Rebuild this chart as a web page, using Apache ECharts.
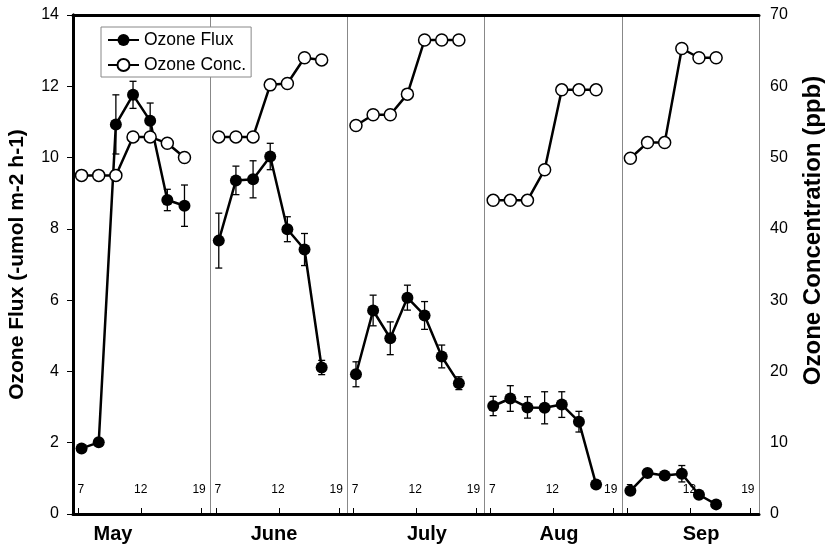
<!DOCTYPE html>
<html><head><meta charset="utf-8">
<script src="https://cdn.jsdelivr.net/npm/echarts@6/dist/echarts.min.js"></script>
<style>html,body{margin:0;padding:0;background:#fff}#c{width:827px;height:549px}</style>
</head><body><div id="c"></div>
<script>
// ---------- data ----------
const months = ['May', 'June', 'July', 'Aug', 'Sep'];
const hourTickLabels = ['7', '12', '19'];
const seriesNames = ['Ozone Flux', 'Ozone Conc.'];

const fluxMay  = [1.84, 2.01, 10.93, 11.76, 11.03, 8.81, 8.65];
const fluxJune = [7.67, 9.36, 9.39, 10.03, 7.99, 7.42, 4.11];
const fluxJuly = [3.92, 5.71, 4.93, 6.07, 5.57, 4.42, 3.67];
const fluxAug  = [3.03, 3.24, 2.99, 2.98, 3.07, 2.59, 0.83];
const fluxSep  = [0.65, 1.15, 1.08, 1.13, 0.54, 0.27];

const errMay  = [0, 0, 0.83, 0.38, 0.5, 0.3, 0.58];
const errJune = [0.77, 0.4, 0.52, 0.37, 0.35, 0.45, 0.2];
const errJuly = [0.35, 0.43, 0.46, 0.35, 0.39, 0.32, 0.18];
const errAug  = [0.27, 0.36, 0.3, 0.45, 0.36, 0.29, 0];
const errSep  = [0, 0, 0, 0.23, 0, 0];

const concMay  = [47.5, 47.5, 47.5, 52.9, 52.9, 52.0, 50.0];
const concJune = [52.9, 52.9, 52.9, 60.2, 60.4, 64.0, 63.7];
const concJuly = [54.5, 56.0, 56.0, 58.9, 66.5, 66.5, 66.5];
const concAug  = [44.0, 44.0, 44.0, 48.3, 59.5, 59.5, 59.5];
const concSep  = [49.9, 52.1, 52.1, 65.3, 64.0, 64.0];

const fluxByMonth = [fluxMay, fluxJune, fluxJuly, fluxAug, fluxSep];
const errByMonth  = [errMay, errJune, errJuly, errAug, errSep];
const concByMonth = [concMay, concJune, concJuly, concAug, concSep];

// ---------- layout of the x scale (slots per month panel) ----------
const SLOTS = 8;
const hourTickOffsets  = [0.33, 4.0, 7.5];
const hourLabelOffsets = [0.45, 3.95, 7.35];
const monthLabelOffsets = [2.33, 3.72, 4.64, 4.34, 4.62];

const FONT = 'Liberation Sans, Arial, Helvetica, sans-serif';

const hourTickVals  = months.flatMap((m, p) => hourTickOffsets.map(o => p * SLOTS + o));
const hourLabelVals = months.flatMap((m, p) => hourLabelOffsets.map(o => p * SLOTS + o));
const monthVals = months.map((m, p) => p * SLOTS + monthLabelOffsets[p]);

function nearestIdx(list, v) {
  let best = 0, bd = Infinity;
  list.forEach((x, i) => { const d = Math.abs(x - v); if (d < bd) { bd = d; best = i; } });
  return best;
}

const series = [];
// error bars
const errData = [];
months.forEach((m, p) => {
  fluxByMonth[p].forEach((v, i) => errData.push([p * SLOTS + 0.5 + i, v, errByMonth[p][i]]));
});
series.push({
  type: 'custom', name: 'err', z: 1, silent: true, xAxisIndex: 0, yAxisIndex: 0,
  encode: { x: 0, y: 1 },
  data: errData,
  renderItem: function (params, api) {
    const x = api.value(0), y = api.value(1), e = api.value(2);
    if (!e) return null;
    const t = api.coord([x, y + e]), b = api.coord([x, y - e]);
    const w = 3.5, st = { stroke: '#000', lineWidth: 1.3 };
    return { type: 'group', children: [
      { type: 'line', shape: { x1: t[0], y1: t[1], x2: b[0], y2: b[1] }, style: st },
      { type: 'line', shape: { x1: t[0] - w, y1: t[1], x2: t[0] + w, y2: t[1] }, style: st },
      { type: 'line', shape: { x1: b[0] - w, y1: b[1], x2: b[0] + w, y2: b[1] }, style: st }
    ]};
  }
});
months.forEach((m, p) => {
  series.push({
    type: 'line', name: seriesNames[0], xAxisIndex: 0, yAxisIndex: 0, z: 2,
    data: fluxByMonth[p].map((v, i) => [p * SLOTS + 0.5 + i, v]),
    symbol: 'circle', symbolSize: 12,
    itemStyle: { color: '#000' },
    lineStyle: { color: '#000', width: 2.5 }
  });
});
months.forEach((m, p) => {
  series.push({
    type: 'line', name: seriesNames[1], xAxisIndex: 0, yAxisIndex: 1, z: 3,
    data: concByMonth[p].map((v, i) => [p * SLOTS + 0.5 + i, v]),
    symbol: 'circle', symbolSize: 12,
    itemStyle: { color: '#fff', borderColor: '#000', borderWidth: 1.5 },
    lineStyle: { color: '#000', width: 2.5 }
  });
});

const chart = echarts.init(document.getElementById('c'), null, { renderer: 'canvas' });
chart.setOption({
  animation: false,
  backgroundColor: '#fff',
  textStyle: { fontFamily: FONT },
  grid: { left: 73, right: 68, top: 15, bottom: 35, containLabel: false, outerBoundsMode: 'none' },
  legend: {
    orient: 'vertical', left: 101, top: 27,
    data: seriesNames,
    itemWidth: 31, itemHeight: 15, itemGap: 7,
    padding: [4, 5, 3, 6],
    borderColor: '#888', borderWidth: 1, backgroundColor: '#fff',
    textStyle: { fontSize: 17.5, color: '#000', fontFamily: FONT }
  },
  xAxis: [
    {
      type: 'value', min: 0, max: months.length * SLOTS, position: 'bottom',
      axisLine: { show: true, lineStyle: { color: '#000', width: 3 } },
      axisTick: { show: true, inside: true, length: 6, customValues: hourTickVals, lineStyle: { color: '#000', width: 1 } },
      axisLabel: {
        show: true, inside: true, margin: 18, customValues: hourLabelVals,
        formatter: v => hourTickLabels[nearestIdx(hourLabelVals, v) % hourTickLabels.length],
        fontSize: 12, color: '#000', fontFamily: FONT
      },
      splitLine: { show: false }
    },
    {
      type: 'value', min: 0, max: months.length * SLOTS, position: 'bottom',
      axisLine: { show: false }, axisTick: { show: false },
      axisLabel: {
        show: true, margin: 10, customValues: monthVals,
        formatter: v => months[nearestIdx(monthVals, v)],
        fontSize: 20, fontWeight: 'bold', color: '#000', fontFamily: FONT
      },
      splitLine: { show: false }
    },
    {
      type: 'value', min: 0, max: months.length * SLOTS, interval: SLOTS, position: 'top',
      axisLine: { show: true, lineStyle: { color: '#000', width: 3 } },
      axisTick: { show: false }, axisLabel: { show: false },
      splitLine: { show: true, lineStyle: { color: '#888', width: 1 } }
    }
  ],
  yAxis: [
    {
      type: 'value', min: 0, max: 14, interval: 2, position: 'left',
      name: 'Ozone Flux (-umol m-2 h-1)', nameLocation: 'middle', nameGap: 45, nameRotate: 90,
      nameTextStyle: { fontSize: 21, fontWeight: 'bold', color: '#000', fontFamily: FONT },
      axisLine: { show: true, lineStyle: { color: '#000', width: 3 } },
      axisTick: { show: true, inside: false, length: 5, lineStyle: { color: '#000', width: 1 } },
      axisLabel: { fontSize: 16, color: '#000', margin: 14, fontFamily: FONT },
      splitLine: { show: false }
    },
    {
      type: 'value', min: 0, max: 70, interval: 10, position: 'right',
      name: 'Ozone Concentration (ppb)', nameLocation: 'middle', nameGap: 42, nameRotate: 90,
      nameTextStyle: { fontSize: 24, fontWeight: 'bold', color: '#000', fontFamily: FONT, padding: [0, 0, 0, 68] },
      axisLine: { show: true, lineStyle: { color: '#000', width: 3 } },
      axisTick: { show: true, inside: true, length: 6, lineStyle: { color: '#000', width: 1 } },
      axisLabel: { fontSize: 16, color: '#000', margin: 11, fontFamily: FONT },
      splitLine: { show: false }
    }
  ],
  series: series
});
</script>
</body></html>
